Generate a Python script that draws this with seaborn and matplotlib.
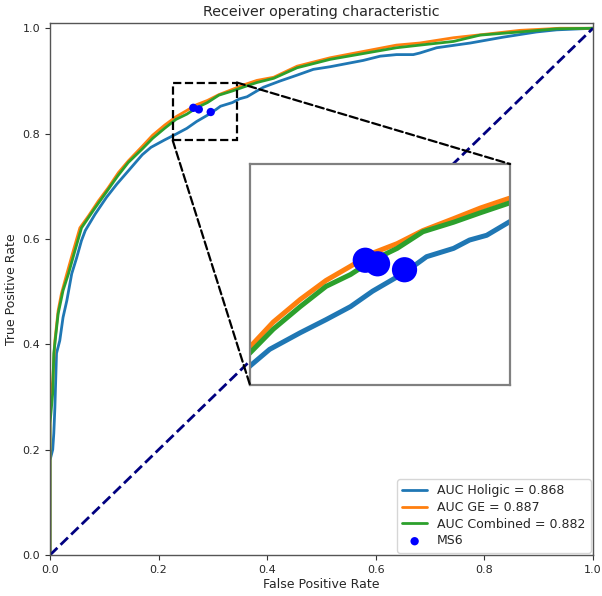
import numpy as np
import pandas as pd
import matplotlib
matplotlib.use("Agg")
import matplotlib.pyplot as plt
from matplotlib.patches import Rectangle, ConnectionPatch
import seaborn as sns

# ---------------- data ----------------
labels = ["AUC Holigic = 0.868", "AUC GE = 0.887", "AUC Combined = 0.882"]

hologic_fpr = [0, 0, 0.005, 0.007, 0.009, 0.012, 0.018, 0.024, 0.031, 0.040, 0.049,
               0.058, 0.065, 0.083, 0.104, 0.123, 0.144, 0.170, 0.186, 0.211, 0.232,
               0.252, 0.270, 0.290, 0.306, 0.314, 0.336, 0.349, 0.363, 0.381, 0.393,
               0.424, 0.455, 0.485, 0.516, 0.577, 0.608, 0.638, 0.669, 0.681, 0.712,
               0.774, 0.834, 0.896, 0.933, 1.0]
hologic_tpr = [0, 0.18, 0.20, 0.231, 0.280, 0.383, 0.407, 0.451, 0.483, 0.534, 0.564,
               0.597, 0.616, 0.647, 0.679, 0.704, 0.729, 0.760, 0.774, 0.788, 0.799,
               0.810, 0.823, 0.835, 0.846, 0.852, 0.859, 0.866, 0.870, 0.881, 0.888,
               0.900, 0.911, 0.922, 0.927, 0.939, 0.947, 0.950, 0.950, 0.953, 0.963,
               0.972, 0.983, 0.993, 0.997, 1.0]

ge_fpr = [0, 0, 0.005, 0.009, 0.015, 0.021, 0.031, 0.043, 0.055, 0.071, 0.089, 0.107,
          0.126, 0.144, 0.170, 0.189, 0.211, 0.232, 0.252, 0.270, 0.290, 0.311, 0.336,
          0.358, 0.381, 0.412, 0.455, 0.516, 0.577, 0.638, 0.681, 0.743, 0.805, 0.865,
          0.939, 1.0]
ge_tpr = [0, 0.28, 0.331, 0.407, 0.464, 0.496, 0.534, 0.578, 0.621, 0.644, 0.672, 0.697,
          0.726, 0.748, 0.776, 0.797, 0.816, 0.832, 0.844, 0.855, 0.863, 0.874, 0.884,
          0.893, 0.901, 0.907, 0.928, 0.944, 0.956, 0.968, 0.972, 0.982, 0.989, 0.996,
          1.0, 1.0]

comb_fpr = [0, 0, 0.005, 0.007, 0.015, 0.024, 0.034, 0.046, 0.058, 0.083, 0.101, 0.125,
            0.144, 0.170, 0.189, 0.211, 0.232, 0.252, 0.270, 0.290, 0.311, 0.336, 0.358,
            0.381, 0.412, 0.455, 0.516, 0.577, 0.638, 0.681, 0.743, 0.792, 0.865, 0.933,
            1.0]
comb_tpr = [0, 0.25, 0.307, 0.383, 0.458, 0.502, 0.534, 0.578, 0.621, 0.659, 0.685, 0.720,
            0.745, 0.771, 0.791, 0.810, 0.827, 0.837, 0.849, 0.859, 0.873, 0.881, 0.889,
            0.897, 0.905, 0.925, 0.941, 0.952, 0.963, 0.968, 0.975, 0.987, 0.993, 0.999,
            1.0]

ms6_fpr = [0.264, 0.274, 0.296]
ms6_tpr = [0.849, 0.846, 0.841]
ms6_label = "MS6"

chance = [0.0, 1.0]
xticks = [0.0, 0.2, 0.4, 0.6, 0.8, 1.0]
yticks = [0.0, 0.2, 0.4, 0.6, 0.8, 1.0]

# ---------------- frame ----------------
frames = []
for lab, fx, ty in zip(labels, [hologic_fpr, ge_fpr, comb_fpr],
                       [hologic_tpr, ge_tpr, comb_tpr]):
    frames.append(pd.DataFrame({"fpr": fx, "tpr": ty, "model": lab}))
df = pd.concat(frames, ignore_index=True)
ms6 = pd.DataFrame({"fpr": ms6_fpr, "tpr": ms6_tpr})

palette = dict(zip(labels, ["#1f77b4", "#ff7f0e", "#2ca02c"]))

sns.set_style("ticks")
plt.rcParams["font.family"] = ["DejaVu Sans"]

fig = plt.figure(figsize=(6.02, 5.96), dpi=100)
ax = fig.add_axes([50 / 602, 41 / 596, 543 / 602, 532 / 596])

sns.lineplot(data=df, x="fpr", y="tpr", hue="model", palette=palette,
             estimator=None, sort=False, lw=2, ax=ax)
sns.scatterplot(data=ms6, x="fpr", y="tpr", color="blue", s=36,
                edgecolor="none", label=ms6_label, ax=ax, zorder=5)
ax.plot(chance, chance, color="navy", lw=2, ls="--")

ax.set_xlim(0.0, 1.0)
ax.set_ylim(0.0, 1.01)
ax.set_xticks(xticks)
ax.set_yticks(yticks)
ax.tick_params(labelsize=8, length=3.5, width=0.8, color="#333333")
for s in ax.spines.values():
    s.set_color("#555555")
    s.set_linewidth(1.0)
ax.set_xlabel("False Positive Rate", fontsize=9, labelpad=2)
ax.set_ylabel("True Positive Rate", fontsize=9, labelpad=3)
ax.set_title("Receiver operating characteristic", fontsize=10.3, pad=5)

leg = ax.legend(loc="lower right", fontsize=9, labelspacing=0.3,
                borderaxespad=0.2, handlelength=2.0, markerscale=1.0)

# zoom rectangle
rect = Rectangle((0.226, 0.787), 0.118, 0.110, fill=False, ec="black",
                 lw=1.6, ls="--", zorder=6)
ax.add_patch(rect)

# inset
axins = fig.add_axes([250 / 602, (596 - 385) / 596, 260 / 602, 221 / 596])
axins.set_facecolor("white")
sns.lineplot(data=df, x="fpr", y="tpr", hue="model", palette=palette,
             estimator=None, sort=False, lw=3.6, ax=axins, legend=False)
sns.scatterplot(data=ms6, x="fpr", y="tpr", color="blue", s=330,
                edgecolor="none", ax=axins, legend=False, zorder=5)
axins.set_xlim(0.170, 0.382)
axins.set_ylim(0.744, 0.930)
axins.set_xticks([])
axins.set_yticks([])
axins.set_xlabel("")
axins.set_ylabel("")
for s in axins.spines.values():
    s.set_color("#808080")
    s.set_linewidth(1.6)

# connectors
c1 = ConnectionPatch(xyA=(0.344, 0.897), coordsA=ax.transData,
                     xyB=(1.0, 1.0), coordsB=axins.transAxes,
                     color="black", lw=1.6, ls="--", zorder=7)
c2 = ConnectionPatch(xyA=(0.226, 0.787), coordsA=ax.transData,
                     xyB=(0.0, 0.0), coordsB=axins.transAxes,
                     color="black", lw=1.6, ls="--", zorder=7)
fig.add_artist(c1)
fig.add_artist(c2)

fig.savefig("out.png", dpi=100)
